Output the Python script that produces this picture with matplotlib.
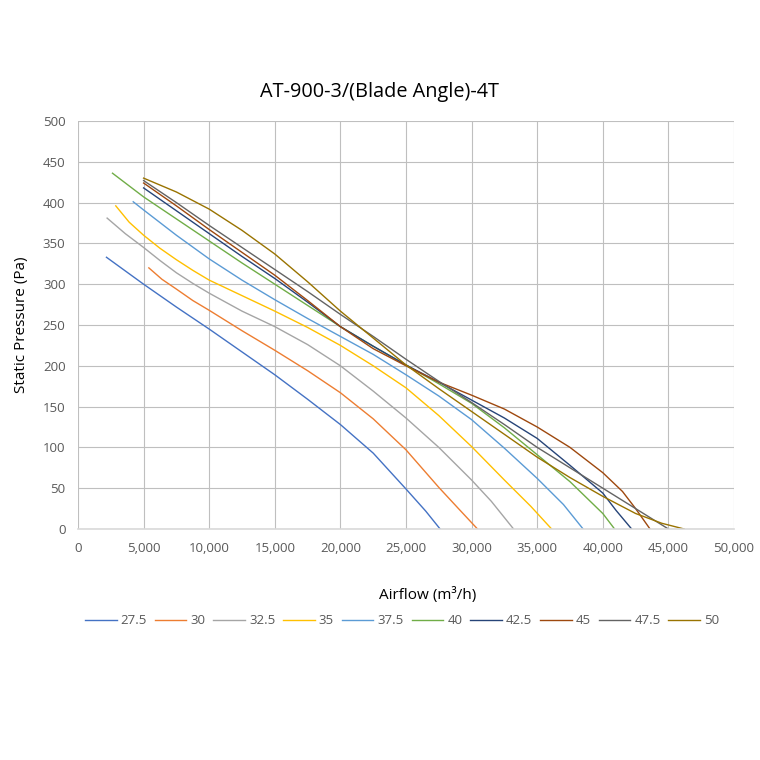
"""Fan curves: static pressure vs airflow for each blade angle (AT-900-3 ... 4T)."""
import matplotlib
matplotlib.use("Agg")
import matplotlib.pyplot as plt
from matplotlib.ticker import FuncFormatter, MultipleLocator

plt.rcParams["font.family"] = ["Open Sans", "DejaVu Sans"]

# ---------- data ----------

ANGLES = ["27.5", "30", "32.5", "35", "37.5", "40", "42.5", "45", "47.5", "50"]

flow_275 = [2170, 5000, 7500, 10000, 12500, 15000, 17500, 20000, 22500, 25000, 26500, 27600]
pres_275 = [333, 300, 272, 245, 217, 189, 159, 128, 93, 49, 22, 0]

flow_30 = [5400, 6400, 7500, 8750, 10000, 12500, 15000, 17500, 20000, 22500, 25000, 27500, 29000, 30450]
pres_30 = [320, 306, 294, 280, 268, 243, 219, 194, 167, 135, 97, 51, 25, 0]

flow_325 = [2220, 3600, 5000, 6250, 7500, 8750, 10000, 12500, 15000, 17500, 20000, 22500, 25000,
            27500, 30000, 31500, 33200]
pres_325 = [381, 362, 345, 329, 314, 301, 289, 267, 248, 226, 200, 169, 136, 100, 60, 34, 0]

flow_35 = [2880, 3900, 5000, 6250, 7500, 8750, 10000, 12500, 15000, 17500, 20000, 22500, 25000,
           27500, 30000, 32500, 34500, 36100]
pres_35 = [396, 376, 360, 344, 330, 317, 305, 286, 267, 247, 225, 200, 173, 139, 101, 60, 28, 0]

flow_375 = [4210, 5000, 7500, 10000, 12500, 15000, 17500, 20000, 22500, 25000, 27500, 30000, 32500,
            35000, 37000, 38500]
pres_375 = [401, 391, 360, 331, 305, 281, 258, 236, 214, 189, 163, 134, 99, 62, 30, 0]

flow_40 = [2630, 5000, 7500, 10000, 12500, 15000, 17500, 20000, 22500, 25000, 27500, 30000, 32500,
           35000, 37500, 40000, 40900]
pres_40 = [436, 407, 380, 353, 326, 300, 274, 248, 224, 201, 178, 154, 124, 91, 58, 19, 0]

flow_425 = [5000, 7500, 10000, 12500, 15000, 17500, 20000, 22500, 25000, 27500, 30000, 32500, 35000,
            37500, 40000, 41000, 42200]
pres_425 = [418, 390, 362, 334, 307, 278, 248, 224, 201, 180, 158, 136, 111, 78, 44, 23, 0]

flow_45 = [5000, 7500, 10000, 12500, 15000, 17500, 20000, 22500, 25000, 27500, 30000, 32500, 35000,
           37500, 40000, 41500, 42500, 43600]
pres_45 = [424, 396, 367, 339, 311, 280, 248, 221, 200, 180, 164, 147, 125, 100, 69, 46, 25, 0]

flow_475 = [5000, 7500, 10000, 12500, 15000, 17500, 20000, 22500, 25000, 27500, 30000, 32500, 35000,
            37500, 40000, 42500, 45000]
pres_475 = [427, 400, 372, 345, 318, 291, 263, 236, 208, 181, 155, 128, 100, 75, 50, 25, 0]

flow_50 = [5000, 7500, 10000, 12500, 15000, 17500, 20000, 22500, 25000, 27500, 30000, 32500, 35000,
           37500, 40000, 42500, 44500, 46200]
pres_50 = [430, 413, 392, 366, 337, 303, 267, 234, 201, 172, 144, 116, 88, 63, 40, 19, 7, 0]

FLOWS = [flow_275, flow_30, flow_325, flow_35, flow_375, flow_40, flow_425, flow_45, flow_475, flow_50]
PRESSURES = [pres_275, pres_30, pres_325, pres_35, pres_375, pres_40, pres_425, pres_45, pres_475, pres_50]

# Excel default series palette
COLORS = ["#4472C4", "#ED7D31", "#A5A5A5", "#FFC000", "#5B9BD5",
          "#70AD47", "#264478", "#9E480E", "#636363", "#997300"]

TEXT_GREY = "#595959"


def main() -> None:
    fig = plt.figure(figsize=(7.6, 7.6), dpi=100)
    ax = fig.add_axes([78 / 760, 1 - 529 / 760, 656 / 760, 408 / 760])

    for label, xs, ys, color in zip(ANGLES, FLOWS, PRESSURES, COLORS):
        ax.plot(xs, ys, color=color, linewidth=1.0, label=label,
                solid_joinstyle="round")

    ax.set_xlim(0, 50000)
    ax.set_ylim(0, 500)
    ax.xaxis.set_major_locator(MultipleLocator(5000))
    ax.yaxis.set_major_locator(MultipleLocator(50))
    ax.xaxis.set_major_formatter(FuncFormatter(lambda v, _: f"{int(v):,}"))
    ax.tick_params(length=0, labelsize=9.5, labelcolor=TEXT_GREY, pad=9)

    ax.grid(True, color="#BFBFBF", linewidth=0.8)
    ax.set_axisbelow(True)
    for side in ("top", "right", "left"):
        ax.spines[side].set_visible(False)
    ax.spines["bottom"].set_color("#D9D9D9")
    ax.spines["bottom"].set_linewidth(1.2)

    fig.text(380 / 760, 1 - 92 / 760, "AT-900-3/(Blade Angle)-4T",
             ha="center", va="center", fontsize=14.3)
    fig.text(428 / 760, 1 - 595 / 760, "Airflow (m³/h)",
             ha="center", va="center", fontsize=11)
    fig.text(22 / 760, 1 - 325 / 760, "Static Pressure (Pa)",
             ha="center", va="center", rotation=90, fontsize=11)

    leg = fig.legend(loc="center", bbox_to_anchor=(402 / 760, 1 - 621 / 760),
                     ncol=10, frameon=False, fontsize=9.5, handlelength=2.4,
                     handletextpad=0.3, columnspacing=0.6)
    for txt in leg.get_texts():
        txt.set_color(TEXT_GREY)

    fig.savefig("out.png", dpi=100)
    plt.close(fig)


if __name__ == "__main__":
    main()
